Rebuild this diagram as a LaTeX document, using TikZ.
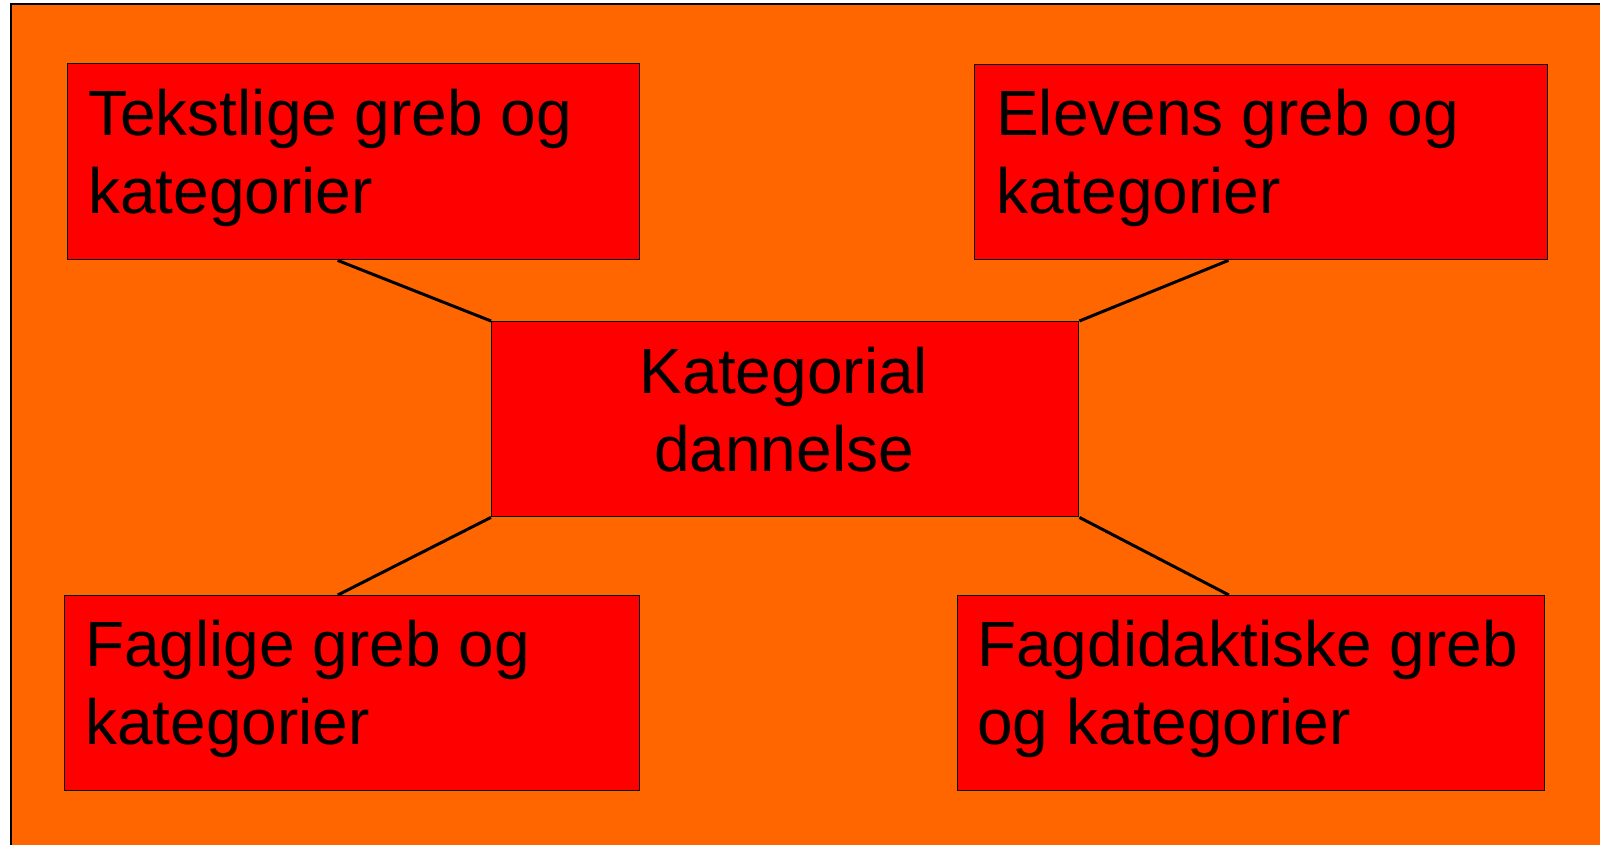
\documentclass[tikz,border=0pt]{standalone}
\usepackage{fontspec}
\setmainfont{Liberation Sans}
\usetikzlibrary{calc}
\definecolor{bgorange}{HTML}{FF6600}
\definecolor{boxred}{HTML}{FF0000}
\tikzset{
  box/.style={draw=black, line width=1.4pt, fill=boxred, rectangle, inner sep=0pt, anchor=north west},
  lbl/.style={inner sep=0pt, font=\fontsize{64}{78}\selectfont},
  link/.style={draw=black, line width=3pt}
}
\begin{document}
\begin{tikzpicture}[x=1pt,y=-1pt]
\useasboundingbox (0,0) rectangle (1600,845);
\fill[white] (0,0) rectangle (1600,845);
\fill[bgorange] (11,4) rectangle (1600,845);
\draw[black, line width=2.5pt] (11,845) -- (11,4) -- (1600,4);

\node[box, minimum width=572pt, minimum height=196pt] (b1) at (67,63) {};
\node[box, minimum width=573pt, minimum height=195pt] (b2) at (974,64) {};
\node[box, minimum width=587pt, minimum height=195pt] (c) at (491,321) {};
\node[box, minimum width=575pt, minimum height=195pt] (b4) at (64,595) {};
\node[box, minimum width=587pt, minimum height=195pt] (b5) at (957,595) {};

\node[lbl, anchor=north west, align=left] (t1) at (88,89) {Tekstlige greb og\\kategorier};
\node[lbl, anchor=north west, align=left] (t2) at (996,89) {Elevens greb og\\kategorier};
\node[lbl, anchor=north, align=center] (tc) at (784,347) {Kategorial\\dannelse};
\node[lbl, anchor=north west, align=left] (t4) at (85,620) {Faglige greb og\\kategorier};
\node[lbl, anchor=north west, align=left] (t5) at (977,620) {Fagdidaktiske greb\\og kategorier};

\coordinate (s1) at ($(b1.south west)!0.472!(b1.south east)$);
\coordinate (s2) at ($(b2.south west)!0.443!(b2.south east)$);
\coordinate (s4) at ($(b4.north west)!0.475!(b4.north east)$);
\coordinate (s5) at ($(b5.north west)!0.462!(b5.north east)$);

\draw[link] (s1) -- (c.north west);
\draw[link] (s2) -- (c.north east);
\draw[link] (c.south west) -- (s4);
\draw[link] (c.south east) -- (s5);
\end{tikzpicture}
\end{document}
